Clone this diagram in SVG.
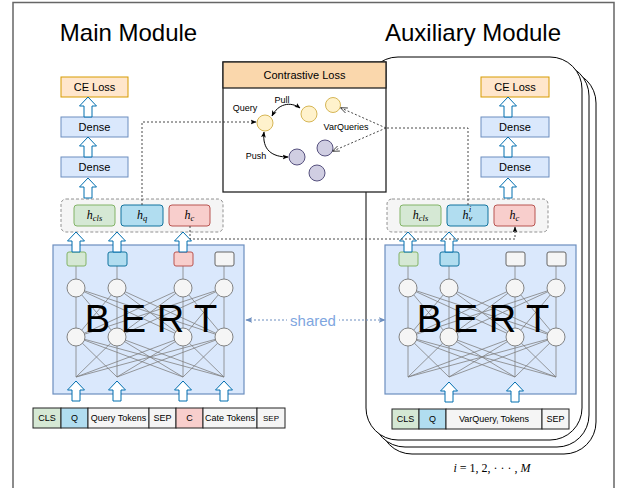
<svg xmlns="http://www.w3.org/2000/svg" width="617" height="488" viewBox="0 0 617 488">
<defs>
<style>
text{font-family:"Liberation Sans",Arial,sans-serif;fill:#000}
.t11{font-size:11px;text-anchor:middle}
.t9{font-size:9px;text-anchor:middle}
.ce{fill:#ffe6cc;stroke:#d79b00;stroke-width:1}
.dn{fill:#dae8fc;stroke:#6c8ebf;stroke-width:1}
.grp{fill:#f5f5f5;stroke:#777;stroke-width:0.8;stroke-dasharray:3 2}
.hg{fill:#d5e8d4;stroke:#82b366}
.hb{fill:#b1ddf0;stroke:#10739e}
.hr{fill:#f8cecc;stroke:#b85450}
.hw{fill:#f5f5f5;stroke:#666}
.math{font-family:"Liberation Serif","Times New Roman",serif;font-style:italic;font-size:12px;text-anchor:middle}
.nn{stroke:#808080;stroke-width:0.8;fill:none}
.cir{fill:#f5f5f5;stroke:#777;stroke-width:0.9}
.bert{font-size:38px;text-anchor:middle}
.tok{stroke:#222;stroke-width:1}
.dash{fill:none;stroke:#333;stroke-width:0.9;stroke-dasharray:2 2}
.yel{fill:#fff2cc;stroke:#d6b656}
.pur{fill:#d0cee2;stroke:#56517e}
.stk{fill:#fff;stroke:#000;stroke-width:1}
</style>
<path id="barr" d="M-4,20 V9 H-8.5 L0,0 L8.5,9 H4 V20 Z" fill="#fff" stroke="#006eaf" stroke-width="1"/>
<marker id="ah" viewBox="0 0 10 10" refX="9" refY="5" markerWidth="6" markerHeight="6" orient="auto-start-reverse" markerUnits="userSpaceOnUse">
<path d="M0,1 L10,5 L0,9 L2.5,5 Z" fill="#000"/>
</marker>
<marker id="ao" viewBox="0 0 10 10" refX="9" refY="5" markerWidth="7" markerHeight="7" orient="auto" markerUnits="userSpaceOnUse">
<path d="M0,1 L10,5 L0,9" fill="none" stroke="#333" stroke-width="1.2"/>
</marker>
<marker id="ab" viewBox="0 0 10 10" refX="9" refY="5" markerWidth="7" markerHeight="7" orient="auto-start-reverse" markerUnits="userSpaceOnUse">
<path d="M0,1 L10,5 L0,9 L2.5,5 Z" fill="#6c8ebf"/>
</marker>
</defs>
<rect width="617" height="488" fill="#fff"/>
<!-- frame -->
<path d="M13,488 V2.5 H614 V488" fill="none" stroke="#666" stroke-width="1.5"/>

<text x="128.5" y="41" style="font-size:24px;text-anchor:middle">Main Module</text>
<text x="473" y="41" style="font-size:24px;text-anchor:middle">Auxiliary Module</text>

<!-- auxiliary stacked container -->
<g id="aux-stack">
<rect class="stk" x="380" y="71" width="216" height="383" rx="32"/>
<rect class="stk" x="373" y="64" width="216" height="383" rx="32"/>
<rect class="stk" x="366" y="57" width="216" height="383" rx="32"/>
</g>

<!-- ===== Main module ===== -->
<g id="main-ce"><rect class="ce" x="61" y="77" width="67" height="20"/><text class="t11" x="94.5" y="91">CE Loss</text></g>
<g id="main-dense1"><rect class="dn" x="61" y="117" width="67" height="20"/><text class="t11" x="94.5" y="131">Dense</text></g>
<g id="main-dense2"><rect class="dn" x="61" y="157" width="67" height="20"/><text class="t11" x="94.5" y="171">Dense</text></g>
<g id="main-hgroup">
<rect class="grp" x="61" y="199" width="162" height="33" rx="5"/>
<rect class="hg" x="74" y="205" width="41" height="21" rx="3"/>
<text class="math" x="94.5" y="219">h<tspan style="font-size:8.5px" dy="2">cls</tspan></text>
<rect class="hb" x="121" y="205" width="42" height="21" rx="3"/>
<text class="math" x="142" y="219">h<tspan style="font-size:8.5px" dy="2">q</tspan></text>
<rect class="hr" x="169" y="205" width="41" height="21" rx="3"/>
<text class="math" x="189.5" y="219">h<tspan style="font-size:8.5px" dy="2">c</tspan></text>
</g>
<g id="main-bert">
<rect x="53" y="245" width="191" height="149" fill="#dae8fc" stroke="#6c8ebf" stroke-width="1.2"/>
<g class="nn">
<path d="M76,266V288M117,266V288M183,266V288M224,266V288"/>
<path d="M76,288L76,337M76,288L117,337M76,288L183,337M76,288L224,337M117,288L76,337M117,288L117,337M117,288L183,337M117,288L224,337M183,288L76,337M183,288L117,337M183,288L183,337M183,288L224,337M224,288L76,337M224,288L117,337M224,288L183,337M224,288L224,337"/>
<path d="M76,337L76,377M76,337L117,377M76,337L183,377M76,337L224,377M117,337L76,377M117,337L117,377M117,337L183,377M117,337L224,377M183,337L76,377M183,337L117,377M183,337L183,377M183,337L224,377M224,337L76,377M224,337L117,377M224,337L183,377M224,337L224,377"/>
</g>
<rect class="hg" x="67" y="252" width="19" height="14" rx="2"/>
<rect class="hb" x="108" y="252" width="19" height="14" rx="2"/>
<rect class="hr" x="174" y="252" width="19" height="14" rx="2"/>
<rect class="hw" x="215" y="252" width="19" height="14" rx="2"/>
<g class="cir">
<circle cx="76" cy="288" r="9"/><circle cx="117" cy="288" r="9"/><circle cx="183" cy="288" r="9"/><circle cx="224" cy="288" r="9"/>
<circle cx="76" cy="337" r="9"/><circle cx="117" cy="337" r="9"/><circle cx="183" cy="337" r="9"/><circle cx="224" cy="337" r="9"/>
</g>
<text class="bert" x="151" y="332">B E R T</text>
</g>
<g id="main-tokens" font-size="9">
<rect class="tok hg" x="33" y="408" width="28" height="20"/><text class="t9" x="47" y="421">CLS</text>
<rect class="tok hb" x="61" y="408" width="27" height="20"/><text class="t9" x="74.5" y="421">Q</text>
<rect class="tok hw" x="88" y="408" width="61" height="20"/><text class="t9" x="118.5" y="421">Query Tokens</text>
<rect class="tok hw" x="149" y="408" width="27" height="20"/><text class="t9" x="162.5" y="421">SEP</text>
<rect class="tok hr" x="176" y="408" width="27" height="20"/><text class="t9" x="189.5" y="421">C</text>
<rect class="tok hw" x="203" y="408" width="54" height="20"/><text class="t9" x="230" y="421">Cate Tokens</text>
<rect class="tok hw" x="257" y="408" width="28" height="20"/><text class="t9" x="271" y="420.5" style="font-size:8px">SEP</text>
</g>

<!-- ===== Auxiliary module ===== -->
<g id="aux-ce"><rect class="ce" x="481" y="77" width="68" height="20"/><text class="t11" x="515" y="91">CE Loss</text></g>
<g id="aux-dense1"><rect class="dn" x="481" y="117" width="68" height="20"/><text class="t11" x="515" y="131">Dense</text></g>
<g id="aux-dense2"><rect class="dn" x="481" y="157" width="68" height="20"/><text class="t11" x="515" y="171">Dense</text></g>
<g id="aux-hgroup">
<rect class="grp" x="387" y="199" width="161" height="33" rx="5"/>
<rect class="hg" x="400" y="205" width="41" height="21" rx="3"/>
<text class="math" x="420.5" y="219">h<tspan style="font-size:8.5px" dy="2">cls</tspan></text>
<rect class="hb" x="447" y="205" width="41" height="21" rx="3"/>
<text class="math" x="467.5" y="219">h<tspan style="font-size:8.5px" dy="2">v</tspan><tspan style="font-size:8px" dx="-3.5" dy="-9">i</tspan></text>
<rect class="hr" x="494" y="205" width="41" height="21" rx="3"/>
<text class="math" x="514.5" y="219">h<tspan style="font-size:8.5px" dy="2">c</tspan></text>
</g>
<g id="aux-bert">
<rect x="385" y="245" width="191" height="149" fill="#dae8fc" stroke="#6c8ebf" stroke-width="1.2"/>
<g class="nn">
<path d="M408,266V288M449,266V288M515,266V288M556,266V288"/>
<path d="M408,288L408,337M408,288L449,337M408,288L515,337M408,288L556,337M449,288L408,337M449,288L449,337M449,288L515,337M449,288L556,337M515,288L408,337M515,288L449,337M515,288L515,337M515,288L556,337M556,288L408,337M556,288L449,337M556,288L515,337M556,288L556,337"/>
<path d="M408,337L408,377M408,337L449,377M408,337L515,377M408,337L556,377M449,337L408,377M449,337L449,377M449,337L515,377M449,337L556,377M515,337L408,377M515,337L449,377M515,337L515,377M515,337L556,377M556,337L408,377M556,337L449,377M556,337L515,377M556,337L556,377"/>
</g>
<rect class="hg" x="399" y="252" width="19" height="14" rx="2"/>
<rect class="hb" x="440" y="252" width="19" height="14" rx="2"/>
<rect class="hw" x="506" y="252" width="19" height="14" rx="2"/>
<rect class="hw" x="547" y="252" width="19" height="14" rx="2"/>
<g class="cir">
<circle cx="408" cy="288" r="9"/><circle cx="449" cy="288" r="9"/><circle cx="515" cy="288" r="9"/><circle cx="556" cy="288" r="9"/>
<circle cx="408" cy="337" r="9"/><circle cx="449" cy="337" r="9"/><circle cx="515" cy="337" r="9"/><circle cx="556" cy="337" r="9"/>
</g>
<text class="bert" x="483" y="332">B E R T</text>
</g>
<g id="aux-tokens">
<rect class="tok hg" x="392" y="409" width="27" height="20"/><text class="t9" x="405.5" y="422">CLS</text>
<rect class="tok hb" x="419" y="409" width="27" height="20"/><text class="t9" x="432.5" y="422">Q</text>
<rect class="tok hw" x="446" y="409" width="96" height="20"/><text class="t9" x="494" y="422">VarQuery<tspan style="font-size:6px" dy="1.5">i</tspan><tspan dy="-1.5"> Tokens</tspan></text>
<rect class="tok hw" x="542" y="409" width="27" height="20"/><text class="t9" x="555.5" y="422">SEP</text>
</g>
<text id="eq" x="492" y="472" style="font-family:'Liberation Serif','Times New Roman',serif;font-size:12px;text-anchor:middle"><tspan font-style="italic">i</tspan> = 1, 2, · · · , <tspan font-style="italic">M</tspan></text>

<!-- ===== Contrastive loss ===== -->
<g id="contrastive">
<rect x="223" y="62" width="163" height="130" fill="#fff" stroke="#222" stroke-width="1.3"/>
<rect x="223" y="62" width="163" height="26" fill="#fad7ac" stroke="#222" stroke-width="1.3"/>
<text class="t11" x="304.5" y="79">Contrastive Loss</text>
<circle class="yel" cx="265" cy="123" r="8"/>
<circle class="yel" cx="309" cy="114" r="8"/>
<circle class="yel" cx="333" cy="105" r="7.5"/>
<circle class="pur" cx="297" cy="157" r="8"/>
<circle class="pur" cx="325" cy="148" r="8"/>
<circle class="pur" cx="317" cy="173" r="8"/>
<text class="t9" x="245" y="111">Query</text>
<text class="t9" x="282" y="103">Pull</text>
<text class="t9" x="256" y="159">Push</text>
<text class="t9" x="346" y="130">VarQueries</text>
<path d="M300,108 C290,101 278,104 272,116" fill="none" stroke="#000" stroke-width="1" marker-start="url(#ah)" marker-end="url(#ah)"/>
<path d="M264,132 C262,150 272,157 288,157" fill="none" stroke="#000" stroke-width="1" marker-start="url(#ah)" marker-end="url(#ah)"/>
</g>

<!-- ===== Connectors ===== -->
<g id="connectors">
<use href="#barr" x="88" y="97"/>
<use href="#barr" x="88" y="137"/>
<use href="#barr" x="88" y="178"/>
<use href="#barr" x="76" y="232"/>
<use href="#barr" x="117" y="232"/>
<use href="#barr" x="183" y="232"/>
<use href="#barr" x="76" y="381"/>
<use href="#barr" x="117" y="381"/>
<use href="#barr" x="183" y="381"/>
<use href="#barr" x="224" y="381"/>
<use href="#barr" x="508" y="97"/>
<use href="#barr" x="508" y="137"/>
<use href="#barr" x="508" y="178"/>
<use href="#barr" x="408" y="232"/>
<use href="#barr" x="449" y="232"/>
<use href="#barr" x="449" y="382"/>
<use href="#barr" x="515" y="382"/>
<path class="dash" d="M142,205 V122 H256" marker-end="url(#ah)"/>
<path class="dash" d="M190,226 V239 H515 V227" marker-end="url(#ah)"/>
<path class="dash" d="M468,205 V128 H386"/>
<path class="dash" d="M386,128 L341,108" marker-end="url(#ao)"/>
<path class="dash" d="M386,128 L333,151" marker-end="url(#ao)"/>
<path d="M246,320 H385" fill="none" stroke="#6c8ebf" stroke-width="1" stroke-dasharray="2 2" marker-start="url(#ab)" marker-end="url(#ab)"/>
<rect x="287" y="311" width="52" height="18" fill="#fff"/>
<text x="313" y="326" style="font-size:15px;text-anchor:middle;fill:#7ea6e0">shared</text>
</g>
</svg>
